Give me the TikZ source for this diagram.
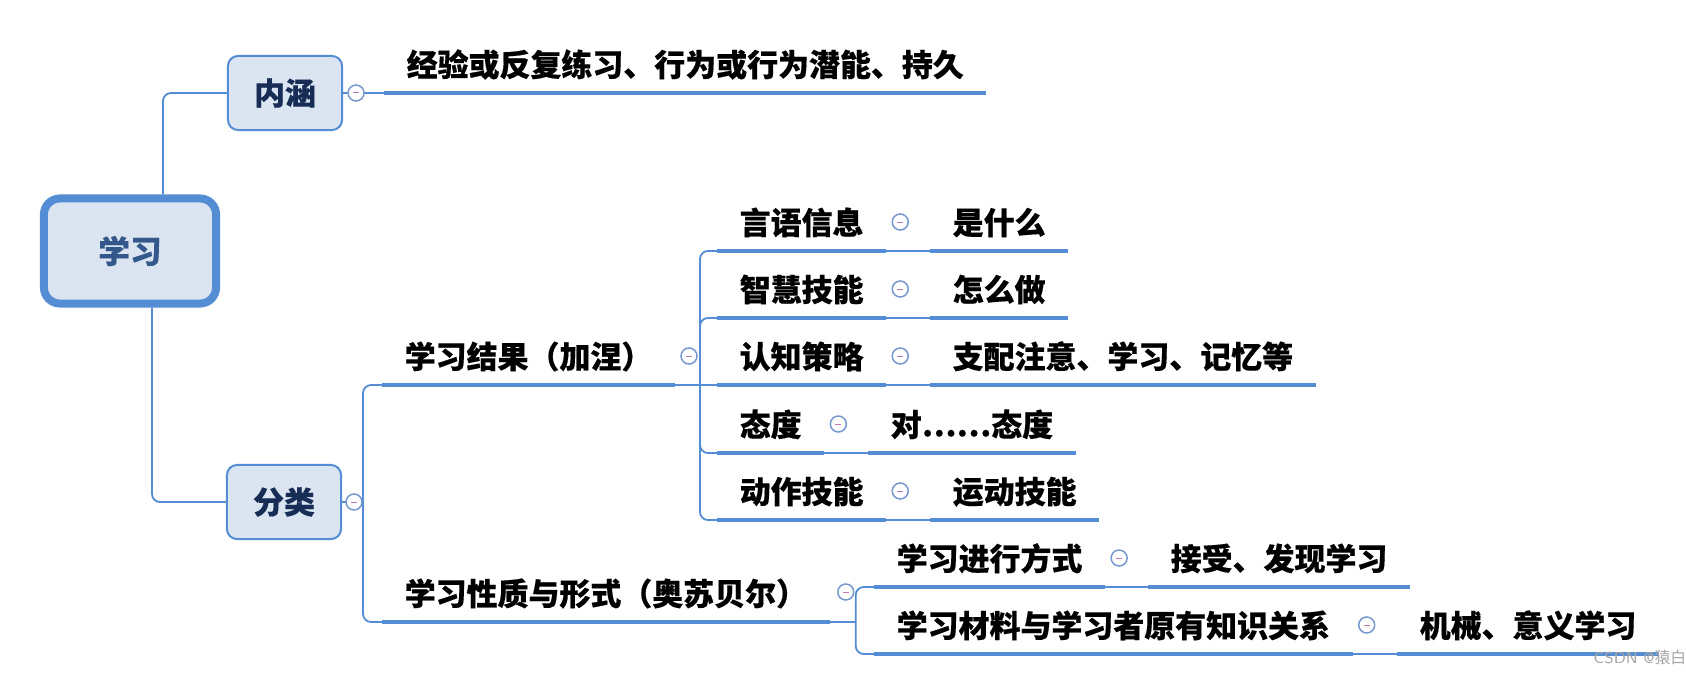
\documentclass[tikz,border=0pt]{standalone}
\usepackage{fontspec}
\newfontfamily\cjk{Noto Sans CJK SC}[BoldFeatures={FakeBold=0.4}]
\definecolor{mapblue}{RGB}{84,141,212}
\definecolor{boxfill}{RGB}{219,229,241}
\definecolor{boxtext}{RGB}{23,45,85}
\definecolor{roottext}{RGB}{52,88,140}
\definecolor{foldline}{RGB}{120,152,208}
\definecolor{foldmark}{RGB}{190,125,175}
\usetikzlibrary{calc}

\begin{document}
\begin{tikzpicture}[x=0.01cm, y=-0.01cm,
  root/.style={draw=mapblue, fill=boxfill, line width=0.08cm, rounded corners=0.16cm, minimum width=1.72cm, minimum height=1.05cm, font=\cjk\bfseries\fontsize{9}{10}\selectfont, text=roottext},
  topic/.style={draw=mapblue, fill=boxfill, line width=0.02cm, rounded corners=0.1cm, minimum width=1.14cm, minimum height=0.74cm, font=\cjk\bfseries\fontsize{8.8}{10}\selectfont, text=boxtext},
  leaf/.style={anchor=south west, inner xsep=0.22cm, inner ysep=0.1cm, text height=0.26cm, text depth=0.06cm, font=\cjk\bfseries\fontsize{8.8}{10}\selectfont},
  uline/.style={draw=mapblue, line width=0.045cm},
  link/.style={draw=mapblue, line width=0.018cm, rounded corners=0.08cm},
  fold/.style={circle, draw=foldline, fill=white, line width=0.015cm, minimum size=0.16cm, inner sep=0pt,
    path picture={\draw[foldmark, line width=0.01cm] ([xshift=-0.03cm]path picture bounding box.center) -- ([xshift=0.03cm]path picture bounding box.center);}},
]
  \fill[white] (0,0) rectangle (1686,673);
  \useasboundingbox (0,0) rectangle (1686,673);

  % central topic and main branches
  \node[root] (root) at (130,251) {学习};
  \node[topic] (neihan) at (285,93) {内涵};
  \node[topic] (fenlei) at (284,502) {分类};

  % 内涵
  \node[leaf] (jy) at (384,93) {经验或反复练习、行为或行为潜能、持久};

  % 分类 - 加涅
  \node[leaf] (jg) at (382,385) {学习结果（加涅）};
  \node[leaf] (yy) at (717,251) {言语信息};
  \node[leaf] (sm) at (930,251) {是什么};
  \node[leaf] (zh) at (717,318) {智慧技能};
  \node[leaf] (zmz) at (930,318) {怎么做};
  \node[leaf] (rz) at (717,385) {认知策略};
  \node[leaf] (zp) at (930,385) {支配注意、学习、记忆等};
  \node[leaf] (td) at (717,453) {态度};
  \node[leaf] (dtd) at (868,453) {对……态度};
  \node[leaf] (dz) at (717,520) {动作技能};
  \node[leaf] (yd) at (930,520) {运动技能};

  % 分类 - 奥苏贝尔
  \node[leaf] (xz) at (382,622) {学习性质与形式（奥苏贝尔）};
  \node[leaf] (jx) at (874,587) {学习进行方式};
  \node[leaf] (js) at (1148,587) {接受、发现学习};
  \node[leaf] (cl) at (874,654) {学习材料与学习者原有知识关系};
  \node[leaf] (jxyy) at (1397,654) {机械、意义学习};

  % trunk points
  \coordinate (fltrunk) at ($(fenlei.east)+(21,0)$);
  \coordinate (jgtrunk) at ($(rz.south west)+(-17,0)$);
  \coordinate (xztrunk) at ($(xz.south east)+(26,0)$);

  % connectors
  \draw[link] ($(root.north)+(33,0)$) |- (neihan.west);
  \draw[link] ($(root.south)+(22,0)$) |- (fenlei.west);
  \draw[link] (neihan.east) -- (jy.south west);
  \draw[link] (fenlei.east) -- (fltrunk);
  \draw[link] (fltrunk) |- (jg.south west);
  \draw[link] (fltrunk) |- (xz.south west);

  \draw[link] (jg.south east) -- (jgtrunk);
  \draw[link] (jgtrunk) |- (yy.south west);
  \draw[link] (jgtrunk) |- (zh.south west);
  \draw[link] (jgtrunk) -- (rz.south west);
  \draw[link] (jgtrunk) |- (td.south west);
  \draw[link] (jgtrunk) |- (dz.south west);
  \draw[link] (yy.south east) -- (sm.south west);
  \draw[link] (zh.south east) -- (zmz.south west);
  \draw[link] (rz.south east) -- (zp.south west);
  \draw[link] (td.south east) -- (dtd.south west);
  \draw[link] (dz.south east) -- (yd.south west);

  \draw[link] (xz.south east) -- (xztrunk);
  \draw[link] (xztrunk) |- (jx.south west);
  \draw[link] (xztrunk) |- (cl.south west);
  \draw[link] (jx.south east) -- (js.south west);
  \draw[link] (cl.south east) -- (jxyy.south west);

  % underlines
  \draw[uline] (jy.south west) -- (jy.south east);
  \draw[uline] (jg.south west) -- (jg.south east);
  \draw[uline] (yy.south west) -- (yy.south east);
  \draw[uline] (sm.south west) -- (sm.south east);
  \draw[uline] (zh.south west) -- (zh.south east);
  \draw[uline] (zmz.south west) -- (zmz.south east);
  \draw[uline] (rz.south west) -- (rz.south east);
  \draw[uline] (zp.south west) -- (zp.south east);
  \draw[uline] (td.south west) -- (td.south east);
  \draw[uline] (dtd.south west) -- (dtd.south east);
  \draw[uline] (dz.south west) -- (dz.south east);
  \draw[uline] (yd.south west) -- (yd.south east);
  \draw[uline] (xz.south west) -- (xz.south east);
  \draw[uline] (jx.south west) -- (jx.south east);
  \draw[uline] (js.south west) -- (js.south east);
  \draw[uline] (cl.south west) -- (cl.south east);
  \draw[uline] (jxyy.south west) -- (jxyy.south east);

  % fold buttons
  \node[fold] (fneihan) at ($(neihan.east)+(13,0)$) {};
  \node[fold] (ffenlei) at ($(fenlei.east)+(12,0)$) {};
  \node[fold] (fjg) at ($(jg.south east)+(14,-29)$) {};
  \node[fold] (fyy) at ($(yy.south east)+(14,-29)$) {};
  \node[fold] (fzh) at ($(zh.south east)+(14,-29)$) {};
  \node[fold] (frz) at ($(rz.south east)+(14,-29)$) {};
  \node[fold] (ftd) at ($(td.south east)+(14,-29)$) {};
  \node[fold] (fdz) at ($(dz.south east)+(14,-29)$) {};
  \node[fold] (fxz) at ($(xz.south east)+(16,-30)$) {};
  \node[fold] (fjx) at ($(jx.south east)+(14,-29)$) {};
  \node[fold] (fcl) at ($(cl.south east)+(14,-29)$) {};

  % watermark
  \node[anchor=west, inner sep=0pt, text=black!35, font=\sffamily\fontsize{4.5}{5}\selectfont] (wm) at (1593,657) {CSDN @{\cjk 猿白}};
\end{tikzpicture}
\end{document}
